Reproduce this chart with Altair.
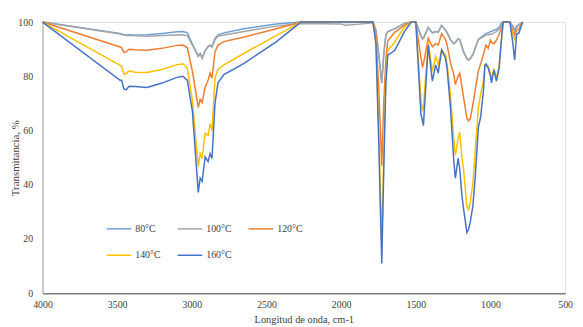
import altair as alt
import pandas as pd

# Wavenumber grid (cm-1)
wavenumber = [
    4000, 3480, 3470, 3455, 3440, 3420, 3380, 3300, 3200, 3100,
    3060, 3030, 2996, 2957, 2944, 2931, 2911, 2891, 2878, 2865,
    2845, 2825, 2785, 2650, 2435, 2270, 2000, 1970, 1800, 1787,
    1767, 1748, 1728, 1715, 1701, 1688, 1642, 1609, 1576, 1530,
    1500, 1466, 1455, 1449, 1417, 1389, 1367, 1350, 1327, 1301,
    1290, 1268, 1246, 1235, 1217, 1206, 1191, 1180, 1158, 1147,
    1136, 1118, 1102, 1081, 1066, 1048, 1037, 1030, 1015, 1000,
    993, 977, 960, 942, 929, 915, 870, 850, 838, 825,
    810, 785,
]

t80 = [
    100, 95.8, 95.6, 95.3, 95.2, 95.3, 95.2, 95.3, 95.8, 96.4,
    96.5, 96.0, 91.8, 87.5, 88.5, 86.6, 89.5, 91.0, 91.5, 91.0,
    94.0, 95.3, 96.0, 97.5, 99.3, 100, 100, 99.8, 100, 100,
    97, 88, 77.5, 88, 95, 96.5, 97.5, 98.5, 99.5, 100,
    100, 95, 93.8, 94, 98, 96, 96.5, 96.3, 98.8, 97,
    96, 93.5, 92, 92.5, 93.8, 93.5, 91, 89, 86.5, 86,
    86.5, 88, 90.5, 93.5, 94.3, 95, 95.5, 95.8, 96, 96.5,
    96.5, 97, 97.3, 98, 99.5, 100, 100, 98.5, 97, 98.5,
    99, 100,
]

t100 = [
    100, 95.6, 95.4, 95.2, 95.0, 95.0, 94.9, 94.8, 95.0, 95.2,
    95.3, 94.9, 91.5, 87.3, 88.3, 86.8, 89.5, 91.0, 91.3, 90.8,
    93.5, 94.8, 95.2, 96.5, 98.5, 99.5, 99.3, 98.8, 99.6, 100,
    97, 88, 77.5, 88, 95, 96.5, 97.5, 98.5, 99.5, 100,
    100, 95, 93.8, 94, 98, 96, 96.5, 96.3, 98.8, 97,
    96, 93.5, 92, 92.5, 93.8, 93.5, 91, 89, 86.5, 86,
    86.5, 88, 90.5, 93.5, 94, 94.5, 95, 95.2, 95.3, 95.5,
    95.5, 96, 96.5, 97.5, 99, 100, 100, 98.5, 96.5, 98,
    99, 100,
]

t120 = [
    100, 90.8, 90.5, 88.8, 89.0, 90.0, 89.8, 89.6, 90.3, 91.4,
    91.5, 90.5, 81.8, 68.5, 71.5, 70.3, 76, 78.5, 81.2, 79.3,
    89, 91.5, 92.8, 94.5, 97.5, 100, 100, 100, 100, 100,
    95, 75, 47, 70, 86, 93, 96.2, 97.5, 98.8, 100,
    100, 87, 83.6, 84.5, 94, 90.9, 92.1, 91.5, 95.8, 93.5,
    91.5, 85, 80.6, 77, 80, 81.2, 76, 72.1, 64.5, 63.6,
    64.2, 69.5, 75, 82, 84.5, 87.9, 90, 91.5, 90.3, 93.3,
    92.5, 92, 93.3, 95.5, 97.5, 100, 100, 96.5, 95.2, 97,
    97.5, 100,
]

t140 = [
    100, 84.0, 83.8, 80.8, 81.0, 82.0, 81.5, 81.4, 82.5, 84.3,
    84.6, 83.0, 70.9, 46.7, 51.5, 49.7, 59, 58.2, 62.5, 60.0,
    79.4, 82.5, 84.2, 88.5, 95, 100, 100, 100, 100, 100,
    93, 60, 17.5, 50, 80, 89.5, 92.5, 95.5, 98, 100,
    100, 72, 67.3, 68.5, 92.7, 81.8, 87.3, 84.2, 89.7, 87.9,
    84.5, 73.3, 57, 50.9, 57, 59.4, 50, 45.5, 32, 30.9,
    33.3, 40.6, 52.7, 68.5, 73.3, 78, 84.2, 84.5, 83.6, 81,
    79.4, 82.4, 79.4, 83.6, 92, 100, 100, 95, 93.5, 95.5,
    96, 100,
]

t160 = [
    100, 78.5, 78.5, 75.3, 75.0, 76.3, 76.2, 75.9, 77.5, 79.6,
    80.0, 78.5, 67, 37.2, 42.5, 41.2, 50.3, 48.5, 51.5, 49.7,
    70, 77.6, 80.6, 84.8, 92.7, 100, 100, 100, 100, 100,
    92, 55, 11, 45, 77, 87.8, 89.5, 93, 96.5, 100,
    100, 66, 63.5, 61.8, 91.5, 78.2, 84.2, 81.2, 89.7, 86.7,
    82.5, 68.5, 49, 42.4, 49.7, 46, 35.8, 31, 22.4, 23.5,
    26, 32.1, 43, 61.2, 65, 74, 84.2, 84.5, 83, 80,
    77.6, 82.4, 78.2, 83, 92, 100, 100, 92, 86, 95.5,
    96, 100,
]

series_names = ["80°C", "100°C", "120°C", "140°C", "160°C"]
series_values = [t80, t100, t120, t140, t160]
series_colors = ["#6F9FD8", "#A5A5A5", "#ED7D31", "#FFC000", "#4472C4"]
# legend grid fills column by column: order entries so rows read 80/100/120, 140/160
legend_order = ["80°C", "140°C", "100°C", "160°C", "120°C"]
x_ticks = [4000, 3500, 3000, 2500, 2000, 1500, 1000, 500]
y_ticks = [0, 20, 40, 60, 80, 100]

color_of = dict(zip(series_names, series_colors))

rows = []
for order, (name, vals) in enumerate(zip(series_names, series_values)):
    assert len(vals) == len(wavenumber), name
    for w, v in zip(wavenumber, vals):
        rows.append({"wn": w, "T": v, "serie": name, "ord": order})
df = pd.DataFrame(rows)

FONT = "Liberation Serif"

chart = (
    alt.Chart(df)
    .mark_line(strokeWidth=1.5)
    .encode(
        x=alt.X(
            "wn:Q",
            scale=alt.Scale(domain=[500, 4000], reverse=True, nice=False),
            axis=alt.Axis(
                values=x_ticks,
                format="d",
                labelFlush=False,
                labelOverlap=False,
                title="Longitud de onda, cm-1",
                grid=False,
                ticks=False,
                tickSize=0,
                labelPadding=6,
                domainColor="#7F7F7F",
                domainWidth=1.5,
                labelFont=FONT,
                labelFontSize=10,
                labelColor="#404040",
                titleFont=FONT,
                titleFontSize=10.5,
                titleFontWeight="normal",
                titleColor="#404040",
                titleY=27,
                titleBaseline="middle",
            ),
        ),
        y=alt.Y(
            "T:Q",
            scale=alt.Scale(domain=[0, 100], nice=False),
            axis=alt.Axis(
                values=y_ticks,
                labelFlush=False,
                title="Transmitancia, %",
                grid=False,
                ticks=False,
                tickSize=0,
                labelPadding=10,
                domainColor="#A6A6A6",
                domainWidth=1,
                labelFont=FONT,
                labelFontSize=10,
                labelColor="#404040",
                titleFont=FONT,
                titleFontSize=11,
                titleFontWeight="normal",
                titleColor="#404040",
                titleX=-27,
                titleY=137.5,
                titleAngle=-90,
                titleAlign="center",
                titleBaseline="middle",
            ),
        ),
        color=alt.Color(
            "serie:N",
            scale=alt.Scale(domain=legend_order, range=[color_of[n] for n in legend_order]),
            legend=alt.Legend(
                title=None,
                orient="none",
                legendX=64,
                legendY=196,
                columns=3,
                columnPadding=14,
                rowPadding=8,
                padding=0,
                symbolType="stroke",
                symbolSize=625,
                symbolStrokeWidth=1.5,
                labelOffset=3,
                labelFont=FONT,
                labelFontSize=10,
                labelColor="#404040",
            ),
        ),
        order=alt.Order("ord:Q"),
    )
    .properties(
        width=530,
        height=275,
        autosize=alt.AutoSizeParams(type="none"),
        padding={"left": 35, "top": 12, "right": 10, "bottom": 32},
    )
    .configure_view(stroke=None)
    .configure(background="white")
)

chart.save("out.html", embed_options={"renderer": "svg", "actions": False})
